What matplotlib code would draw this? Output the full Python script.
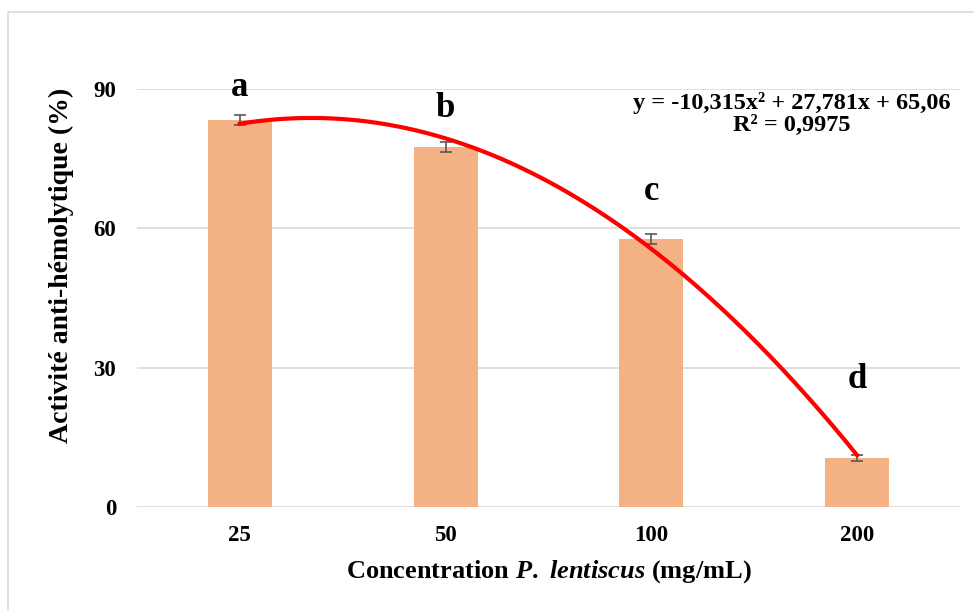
import matplotlib
matplotlib.use('Agg')
import matplotlib.pyplot as plt
import numpy as np
from matplotlib.patches import Rectangle

# anti-haemolytic activity per extract concentration
concentrations = ['25', '50', '100', '200']
activity = [83.3, 77.5, 57.7, 10.6]
errors = [1.1, 1.1, 1.0, 0.6]
letters = ['a', 'b', 'c', 'd']
letter_y = [88.6, 84.0, 66.0, 25.6]

# polynomial trend (order 2) on the category index
coefs = [-10.315, 27.781, 65.06]
r2 = 0.9975

plt.rcParams['font.family'] = ['Liberation Serif', 'DejaVu Serif']
plt.rcParams['font.weight'] = 'bold'
plt.rcParams['mathtext.fontset'] = 'custom'
plt.rcParams['mathtext.rm'] = 'Liberation Serif:bold'
plt.rcParams['mathtext.it'] = 'Liberation Serif:bold:italic'

W, H = 974, 611
fig = plt.figure(figsize=(W / 100, H / 100), dpi=100)
fig.patches.append(Rectangle((8 / W, -0.1), 1.2, 1 - 12 / H + 0.1, transform=fig.transFigure,
                             fill=False, edgecolor='#D9D9D9', linewidth=1.2))

ax = fig.add_axes([137 / W, 1 - 507 / H, (960 - 137) / W, (507 - 89) / H])
x = np.arange(1, len(concentrations) + 1)
ax.bar(x, activity, width=0.31, color='#F4B183', zorder=2)
ax.errorbar(x, activity, yerr=errors, fmt='none', ecolor='#595959', elinewidth=1.2,
            capsize=4.5, capthick=1.2, zorder=3)

xs = np.linspace(1, 4, 200)
ax.plot(xs, np.polyval(coefs, xs), color='#FF0000', linewidth=3, zorder=4)

for xi, lab, ly in zip(x, letters, letter_y):
    ax.text(xi, ly, lab, ha='center', va='baseline', fontsize=25, fontweight='bold')

eq = 'y = {:,}x² + {:,}x + {:,}'.format(coefs[0], coefs[1], coefs[2]).replace('.', ',')
ax.text(3.68, 85.6, eq, ha='center', va='baseline', fontsize=17.5, fontweight='bold')
ax.text(3.68, 80.9, 'R² = ' + str(r2).replace('.', ','), ha='center', va='baseline',
        fontsize=17.5, fontweight='bold')

ax.set_xlim(0.5, 4.5)
ax.set_ylim(0, 90)
ax.set_yticks([0, 30, 60, 90])
ax.set_xticks(x)
ax.set_xticklabels(concentrations)
ax.tick_params(length=0, labelsize=16.5)
ax.tick_params(axis='x', pad=13)
ax.tick_params(axis='y', pad=15)
for s in ax.spines.values():
    s.set_visible(False)
ax.grid(axis='y', color='#D9D9D9', linewidth=1.2, zorder=0)
ax.set_axisbelow(True)

ax.set_xlabel(r'$\mathrm{Concentration\ }\mathit{P.\ lentiscus}\mathrm{\ (mg/mL)}$',
              fontsize=19, labelpad=9)
ax.set_ylabel('Activité anti-hémolytique (%)', fontsize=20, fontweight='bold')
ax.yaxis.set_label_coords(-0.076, 0.577)

fig.savefig('out.png', dpi=100)
